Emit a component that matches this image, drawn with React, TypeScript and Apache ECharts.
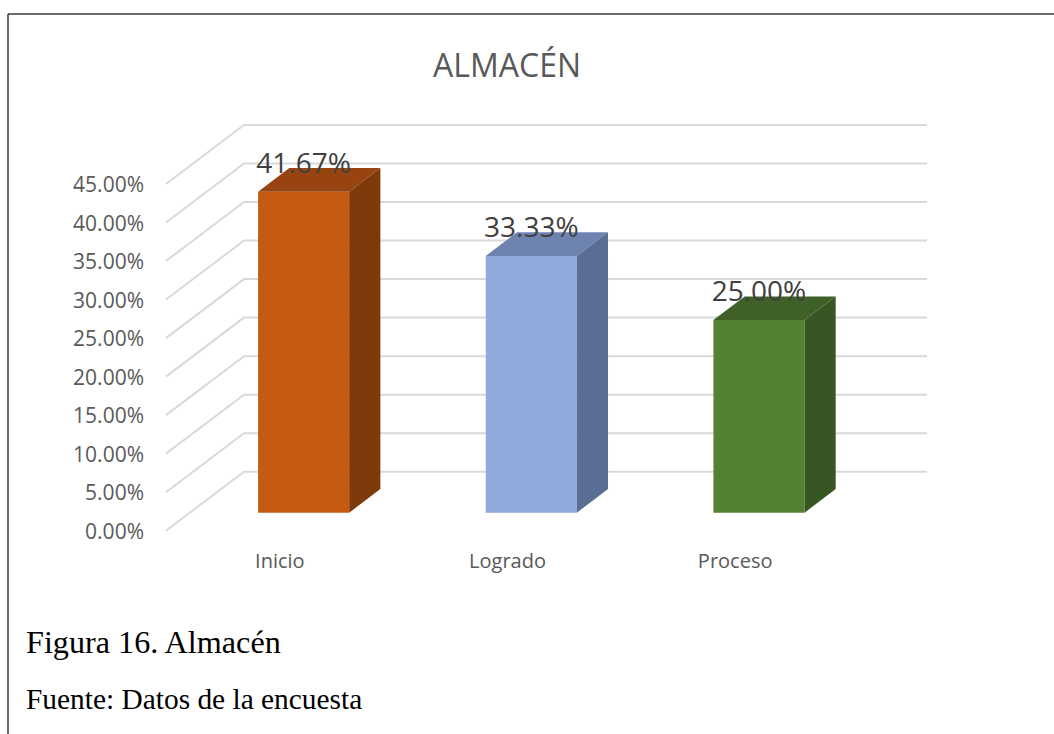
import React, { useEffect, useRef } from "react";
import * as echarts from "echarts";

const categories = ["Inicio", "Logrado", "Proceso"];
const values = [41.67, 33.33, 25.0];
const yTicks = [0, 5, 10, 15, 20, 25, 30, 35, 40, 45];

const frontColors = ["#C55A11", "#8FAADC", "#548235"];
const topColors = ["#974410", "#6E83B0", "#3F6128"];
const sideColors = ["#7F3A0B", "#5A6D94", "#375623"];

const DEPTH_X = 78;
const DEPTH_Y = 59;
const BAR_FRONT = 0.305;
const BAR_DEPTH = 0.4;
const FONT = "'Open Sans', sans-serif";

export default function App() {
  const ref = useRef<HTMLDivElement>(null);
  useEffect(() => {
    if (!ref.current) return;
    const chart = echarts.init(ref.current, null, { renderer: "svg" });
    chart.setOption({
      animation: false,
      backgroundColor: "#ffffff",
      grid: { left: 166, right: 205, top: 184, bottom: 203.3 },
      xAxis: {
        type: "category",
        data: categories,
        axisLine: { show: false },
        axisTick: { show: false },
        axisLabel: { color: "#595959", fontSize: 20, fontFamily: FONT, margin: 20 },
      },
      yAxis: {
        type: "value",
        min: 0,
        max: 45,
        interval: 5,
        axisLine: { show: false },
        axisTick: { show: false },
        splitLine: { show: false },
        axisLabel: {
          color: "#595959",
          fontSize: 21,
          fontFamily: FONT,
          margin: 22,
          formatter: (v: number) => v.toFixed(2) + "%",
        },
      },
      graphic: [
        { type: "line", shape: { x1: 8, y1: 14, x2: 1054, y2: 14 }, style: { stroke: "#3a3a3a", lineWidth: 1.5 } },
        { type: "line", shape: { x1: 8, y1: 14, x2: 8, y2: 734 }, style: { stroke: "#3a3a3a", lineWidth: 1.5 } },
        {
          type: "text", x: 507, y: 64,
          style: { text: "ALMACÉN", fontSize: 32, fontFamily: FONT, fill: "#595959", textAlign: "center", textVerticalAlign: "middle" },
        },
        {
          type: "text", x: 26, y: 642,
          style: { text: "Figura 16. Almacén", fontSize: 32.2, fontFamily: "'Liberation Serif', serif", fill: "#000", textAlign: "left", textVerticalAlign: "middle" },
        },
        {
          type: "text", x: 26, y: 699,
          style: { text: "Fuente: Datos de la encuesta", fontSize: 29.4, fontFamily: "'Liberation Serif', serif", fill: "#000", textAlign: "left", textVerticalAlign: "middle" },
        },
      ],
      series: [
        {
          type: "custom",
          z: 1,
          silent: true,
          data: yTicks.map((v) => [0, v]),
          renderItem: (params: any, api: any) => {
            const cs = params.coordSys;
            const y = api.coord([0, api.value(1)])[1];
            const left = cs.x;
            const right = cs.x + cs.width;
            return {
              type: "polyline",
              shape: {
                points: [
                  [left, y],
                  [left + DEPTH_X, y - DEPTH_Y],
                  [right + DEPTH_X, y - DEPTH_Y],
                ],
              },
              style: { stroke: "#d9d9d9", lineWidth: 2, fill: "none" },
            };
          },
        },
        {
          type: "custom",
          z: 2,
          data: values.map((v, i) => [i, v]),
          renderItem: (params: any, api: any) => {
            const i = api.value(0);
            const v = api.value(1);
            const [cx, y0] = api.coord([i, 0]);
            const y1 = api.coord([i, v])[1];
            const w = api.size([1, 0])[0] * 0.4;
            const ox = DEPTH_X * BAR_FRONT;
            const oy = DEPTH_Y * BAR_FRONT;
            const dx = DEPTH_X * BAR_DEPTH;
            const dy = DEPTH_Y * BAR_DEPTH;
            const xl = cx - w / 2 + ox;
            const xr = xl + w;
            const yt = y1 - oy;
            const yb = y0 - oy;
            return {
              type: "group",
              children: [
                {
                  type: "rect",
                  shape: { x: xl, y: yt, width: w, height: yb - yt },
                  style: { fill: frontColors[i] },
                },
                {
                  type: "polygon",
                  shape: { points: [[xl, yt], [xl + dx, yt - dy], [xr + dx, yt - dy], [xr, yt]] },
                  style: { fill: topColors[i] },
                },
                {
                  type: "polygon",
                  shape: { points: [[xr, yt], [xr + dx, yt - dy], [xr + dx, yb - dy], [xr, yb]] },
                  style: { fill: sideColors[i] },
                },
                {
                  type: "text",
                  x: xl + w / 2,
                  y: yt - 30,
                  style: {
                    text: v.toFixed(2) + "%",
                    fontSize: 28,
                    fontFamily: FONT,
                    fill: "#404040",
                    textAlign: "center",
                    textVerticalAlign: "middle",
                  },
                },
              ],
            };
          },
        },
      ],
    });
    return () => chart.dispose();
  }, []);
  return <div ref={ref} style={{ position: "absolute", left: 0, top: 0, width: 1054, height: 734 }} />;
}
